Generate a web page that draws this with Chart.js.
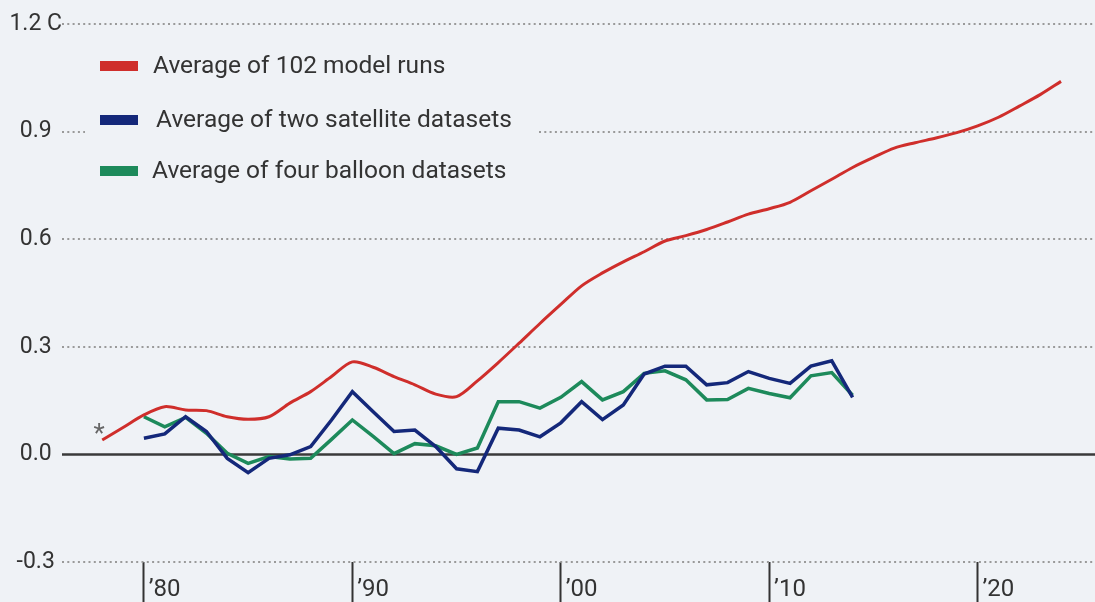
<!DOCTYPE html>
<html>
<head>
<meta charset="utf-8">
<script src="https://cdn.jsdelivr.net/npm/chart.js@4/dist/chart.umd.min.js"></script>
<style>
  html, body { margin: 0; padding: 0; background: #eff2f6; }
  #wrap { width: 1095px; height: 602px; }
</style>
</head>
<body>
<div id="wrap"><canvas id="chart"></canvas></div>
<script>
const BG = "#eff2f6"

const modelYears = [1978, 1979, 1980, 1981, 1982, 1983, 1984, 1985, 1986, 1987, 1988, 1989,
  1990, 1991, 1992, 1993, 1994, 1995, 1996, 1997, 1998, 1999, 2000, 2001, 2002, 2003, 2004,
  2005, 2006, 2007, 2008, 2009, 2010, 2011, 2012, 2013, 2014, 2015, 2016, 2017, 2018, 2019,
  2020, 2021, 2022, 2023, 2024]
const modelRuns = [0.040, 0.075, 0.110, 0.133, 0.124, 0.122, 0.105, 0.098, 0.105, 0.143, 0.175, 0.217,
  0.258, 0.243, 0.217, 0.194, 0.168, 0.161, 0.205, 0.256, 0.310, 0.365, 0.418, 0.470, 0.506, 0.537, 0.565,
  0.595, 0.610, 0.627, 0.648, 0.670, 0.685, 0.703, 0.735, 0.767, 0.800, 0.828, 0.854, 0.869, 0.882, 0.897,
  0.916, 0.940, 0.971, 1.003, 1.040]

const obsYears = [1980, 1981, 1982, 1983, 1984, 1985, 1986, 1987, 1988, 1989,
  1990, 1991, 1992, 1993, 1994, 1995, 1996, 1997, 1998, 1999,
  2000, 2001, 2002, 2003, 2004, 2005, 2006, 2007, 2008, 2009,
  2010, 2011, 2012, 2013, 2014]
const satellite = [0.045, 0.057, 0.105, 0.064, -0.011, -0.051, -0.011, -0.001, 0.022, 0.096,
  0.175, 0.119, 0.064, 0.068, 0.022, -0.040, -0.048, 0.073, 0.068, 0.049,
  0.088, 0.147, 0.097, 0.138, 0.224, 0.246, 0.246, 0.194, 0.200, 0.231,
  0.212, 0.198, 0.246, 0.261, 0.159]
const balloon = [0.105, 0.077, 0.103, 0.059, 0.003, -0.025, -0.006, -0.013, -0.011, 0.042,
  0.096, 0.050, 0.002, 0.030, 0.024, 0.000, 0.018, 0.147, 0.147, 0.129,
  0.159, 0.203, 0.152, 0.175, 0.226, 0.233, 0.208, 0.152, 0.153, 0.184,
  0.170, 0.158, 0.219, 0.228, 0.165]

const yTicks = [-0.3, 0, 0.3, 0.6, 0.9, 1.2]
const xTicks = [1980, 1990, 2000, 2010, 2020]

const pts = (xs, ys) => xs.map((x, i) => ({ x, y: ys[i] }))

// legend box, zero line and the asterisk sit on top of the grid, under the lines
const overlay = {
  id: "overlay",
  beforeDatasetsDraw(chart) {
    const { ctx, chartArea, scales } = chart
    ctx.save()

    const y0 = scales.y.getPixelForValue(0)
    ctx.strokeStyle = "#3a3a3a"
    ctx.lineWidth = 2.5
    ctx.beginPath()
    ctx.moveTo(chartArea.left, y0)
    ctx.lineTo(chartArea.right, y0)
    ctx.stroke()

    ctx.fillStyle = BG
    ctx.fillRect(85, 42, 452, 153)

    const rows = [{ y: 73, tx: 153 }, { y: 127, tx: 156 }, { y: 178, tx: 152 }]
    ctx.font = "24.5px Roboto"
    ctx.textBaseline = "alphabetic"
    ctx.textAlign = "left"
    chart.data.datasets.forEach((ds, i) => {
      const r = rows[i]
      ctx.fillStyle = ds.borderColor
      ctx.fillRect(100, r.y - 12, 38, 10)
      ctx.fillStyle = "#333"
      ctx.fillText(ds.label, r.tx, r.y)
    })

    ctx.fillStyle = "#666"
    ctx.font = "26px Roboto"
    ctx.textAlign = "center"
    ctx.fillText("*", scales.x.getPixelForValue(1977.85), scales.y.getPixelForValue(0.035))
    ctx.restore()
  },
}

new Chart(document.getElementById("chart"), {
  type: "line",
  data: {
    datasets: [
      { label: "Average of 102 model runs", data: pts(modelYears, modelRuns),
        borderColor: "#cf2e2b", borderWidth: 3, tension: 0.3 },
      { label: "Average of two satellite datasets", data: pts(obsYears, satellite),
        borderColor: "#14287a", borderWidth: 3.5, tension: 0 },
      { label: "Average of four balloon datasets", data: pts(obsYears, balloon),
        borderColor: "#1d8a5b", borderWidth: 3.5, tension: 0 },
    ],
  },
  plugins: [overlay],
  options: {
    responsive: true,
    maintainAspectRatio: false,
    animation: false,
    layout: { padding: { top: 24, right: 0, left: 0, bottom: 0 } },
    elements: { point: { radius: 0 } },
    plugins: { legend: { display: false }, tooltip: { enabled: false } },
    scales: {
      x: {
        type: "linear",
        min: 1976.07,
        max: 2025.63,
        afterFit: s => { s.height = 40 },
        afterBuildTicks: s => { s.ticks = xTicks.map(v => ({ value: v })) },
        border: { display: false },
        grid: { drawOnChartArea: false, drawTicks: true, tickLength: 40, tickWidth: 2, tickColor: "#333" },
        ticks: {
          align: "start",
          padding: -26,
          maxRotation: 0,
          color: "#333",
          font: { family: "Roboto", size: 24 },
          callback: v => "\u2009\u2019" + String(v).slice(2),
        },
      },
      y: {
        min: -0.3,
        max: 1.2,
        afterFit: s => { s.width = 62 },
        afterBuildTicks: s => { s.ticks = yTicks.map(v => ({ value: v })) },
        border: { display: false, dash: [2, 3.3] },
        grid: {
          drawTicks: false,
          lineWidth: 2,
          color: c => (c.tick && c.tick.value === 0 ? "rgba(0,0,0,0)" : "#9a9a9a"),
        },
        ticks: {
          crossAlign: "center",
          padding: 0,
          color: "#333",
          font: { family: "Roboto", size: 23 },
          callback: v => (v === 1.2 ? "1.2 C" : v.toFixed(1)),
        },
      },
    },
  },
})
</script>
</body>
</html>
